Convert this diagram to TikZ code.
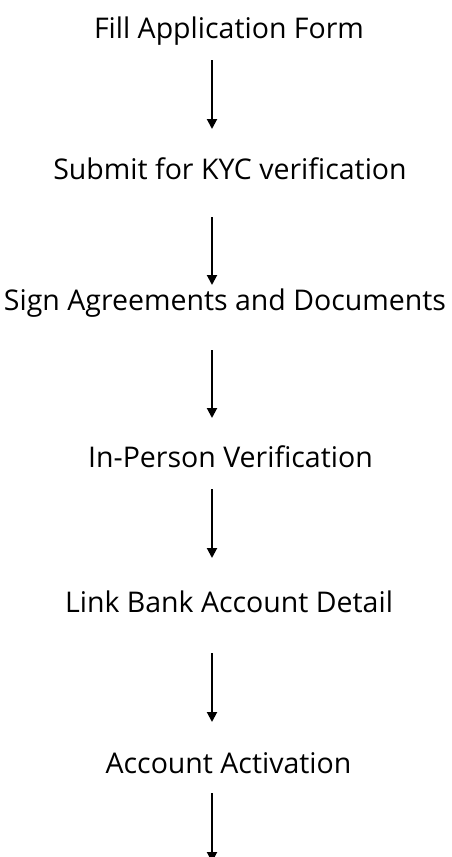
\documentclass[tikz,border=0pt]{standalone}
\usepackage{fontspec}
\setmainfont{Open Sans}
\usetikzlibrary{arrows.meta}
\begin{document}
\begin{tikzpicture}[x=1pt,y=1pt,
  stepnode/.style={font=\fontsize{28.5}{32}\selectfont, inner sep=0pt, anchor=base},
  flow/.style={line width=2pt, -{Triangle[width=10pt,length=10pt]}}]
\useasboundingbox (0,0) rectangle (452,-857);
\node[stepnode] (n1) at (229,-38) {Fill Application Form};
\node[stepnode] (n2) at (230,-179) {Submit for KYC verification};
\node[stepnode] (n3) at (225,-310) {Sign Agreements and Documents};
\node[stepnode] (n4) at (230.5,-467) {In-Person Verification};
\node[stepnode] (n5) at (229,-612) {Link Bank Account Detail};
\node[stepnode] (n6) at (228.5,-773) {Account Activation};
\coordinate (a1s) at (212,-60);  \coordinate (a1e) at (212,-129);
\coordinate (a2s) at (212,-217); \coordinate (a2e) at (212,-285);
\coordinate (a3s) at (212,-350); \coordinate (a3e) at (212,-418);
\coordinate (a4s) at (212,-489); \coordinate (a4e) at (212,-558);
\coordinate (a5s) at (212,-653); \coordinate (a5e) at (212,-722);
\coordinate (a6s) at (212,-793); \coordinate (a6e) at (212,-862);
\draw[flow] (a1s) -- (a1e);
\draw[flow] (a2s) -- (a2e);
\draw[flow] (a3s) -- (a3e);
\draw[flow] (a4s) -- (a4e);
\draw[flow] (a5s) -- (a5e);
\draw[flow] (a6s) -- (a6e);
\end{tikzpicture}
\end{document}
